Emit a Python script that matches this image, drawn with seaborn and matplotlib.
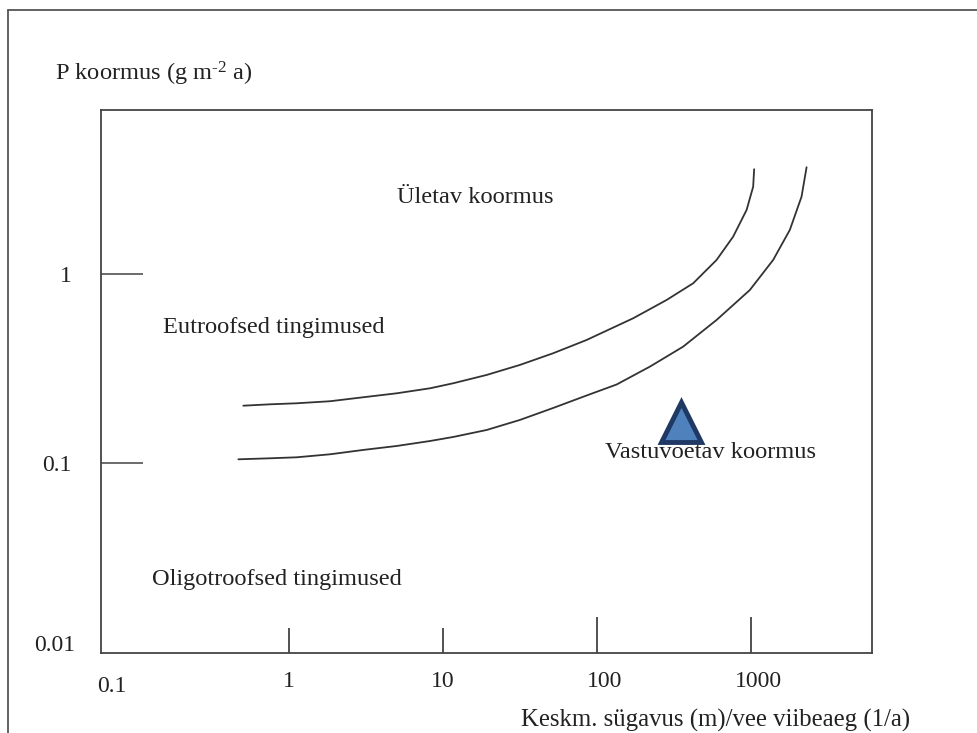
import numpy as np
import pandas as pd
import matplotlib
matplotlib.use('Agg')
import matplotlib.pyplot as plt
import matplotlib.transforms as mtransforms
import seaborn as sns
from matplotlib.lines import Line2D

# Vollenweider-type loading curves
upper_x = [0.505, 0.753, 1.122, 1.846, 3.04, 5.01, 8.24, 11.66, 19.2, 31.6, 52.0,
           85.7, 172, 283.6, 422, 599, 767, 938, 1035, 1050]
upper_y = [0.2018, 0.2052, 0.2078, 0.2130, 0.2236, 0.2346, 0.2493, 0.2650, 0.2931,
           0.3311, 0.3817, 0.4484, 0.5837, 0.729, 0.893, 1.186, 1.573,
           2.176, 2.888, 3.568]
lower_x = [0.469, 0.753, 1.122, 1.846, 3.04, 5.01, 8.24, 11.66, 19.2, 31.6, 52.0,
           85.7, 134.3, 220.8, 363, 599, 985, 1396, 1791, 2134, 2300]
lower_y = [0.1052, 0.1065, 0.1078, 0.1118, 0.1179, 0.1237, 0.1314, 0.1380, 0.1502,
           0.1697, 0.1963, 0.2284, 0.2611, 0.3243, 0.4134, 0.5720, 0.823, 1.186,
           1.708, 2.558, 3.656]

# the lake's own point
lake_x = [350]
lake_y = [0.165]

sns.set_theme(style='white')
plt.rcParams['font.family'] = ['Liberation Serif', 'DejaVu Serif']
plt.rcParams['mathtext.fontset'] = 'custom'
plt.rcParams['mathtext.rm'] = 'Liberation Serif'
plt.rcParams['mathtext.it'] = 'Liberation Serif:italic'

fig = plt.figure(figsize=(9.78, 7.33), dpi=100)
fig.patch.set_facecolor('white')
ax = fig.add_axes([101 / 978, 1 - 653 / 733, 771 / 978, 543 / 733])

df_up = pd.DataFrame({'x': upper_x, 'y': upper_y})
df_lo = pd.DataFrame({'x': lower_x, 'y': lower_y})
sns.lineplot(data=df_up, x='x', y='y', sort=False, color='#333333', lw=1.3, ax=ax)
sns.lineplot(data=df_lo, x='x', y='y', sort=False, color='#333333', lw=1.3, ax=ax)
ax.plot(lake_x, lake_y, marker='^', markersize=29, markerfacecolor='#4f81bd',
        markeredgecolor='#1f3864', markeredgewidth=3.5, linestyle='none', zorder=3)

ax.set_xscale('log')
ax.set_yscale('log')
ax.set_xlim(0.0601, 6120)
ax.set_ylim(0.01, 7.33)
ax.set_xlabel('')
ax.set_ylabel('')

for s in ax.spines.values():
    s.set_color('#444444')
    s.set_linewidth(1.3)

# x ticks: long ones at 100/1000, short ones at 1/10
ax.set_xticks([100, 1000])
ax.set_xticklabels(['100', '1000'])
ax.set_xticks([1, 10], minor=True)
ax.set_xticklabels(['1', '10'], minor=True)
ax.tick_params(axis='x', which='major', direction='in', length=26, width=1.1, bottom=True,
               color='#222222', pad=13, labelsize=17, labelcolor='#222222')
ax.tick_params(axis='x', which='minor', direction='in', length=18, width=1.1, bottom=True,
               color='#222222', pad=13, labelsize=17, labelcolor='#222222')
shift = mtransforms.ScaledTranslation(8 / 100, 0, fig.dpi_scale_trans)
for lab in ax.get_xticklabels(which='major'):
    lab.set_transform(lab.get_transform() + shift)

ax.set_yticks([0.1, 1])
ax.set_yticklabels(['0.1', '1'])
ax.set_yticks([], minor=True)
ax.tick_params(axis='y', which='major', direction='in', length=30, width=1.1, left=True,
               color='#444444', pad=21, labelsize=17, labelcolor='#222222')

def px(x):
    return (x - 101) / 771

def py(y):
    return (653 - y) / 543

tk = dict(fontsize=17, color='#222222', transform=ax.transAxes, clip_on=False)
ax.text(px(112), py(692), '0.1', ha='center', va='baseline', **tk)
ax.text(px(75), py(651), '0.01', ha='right', va='baseline', **tk)

txt = dict(fontsize=17.6, color='#222222', transform=ax.transAxes)
ax.text(px(397), py(203), 'Ületav koormus', ha='left', va='baseline', **txt)
ax.text(px(163), py(333), 'Eutroofsed tingimused', ha='left', va='baseline', **txt)
ax.text(px(605), py(458), 'Vastuvoetav koormus', ha='left', va='baseline', zorder=4, **txt)
ax.text(px(152), py(585), 'Oligotroofsed tingimused', ha='left', va='baseline', **txt)

fig.text(55 / 978, 1 - 80 / 733, r'P koormus (g m$^{\text{-2}}$ a)', ha='left', va='baseline',
         fontsize=17.6, color='#222222')
fig.text(910 / 978, 1 - 727 / 733, 'Keskm. sügavus (m)/vee viibeaeg (1/a)', ha='right',
         va='baseline', fontsize=17.8, color='#222222')

# outer frame (only top and left edges fall inside the picture)
fig.add_artist(Line2D([8 / 978, 1.0], [1 - 10 / 733, 1 - 10 / 733], color='#555555', lw=1.3))
fig.add_artist(Line2D([8 / 978, 8 / 978], [0.0, 1 - 10 / 733], color='#555555', lw=1.3))

fig.savefig('out.png', dpi=100)
